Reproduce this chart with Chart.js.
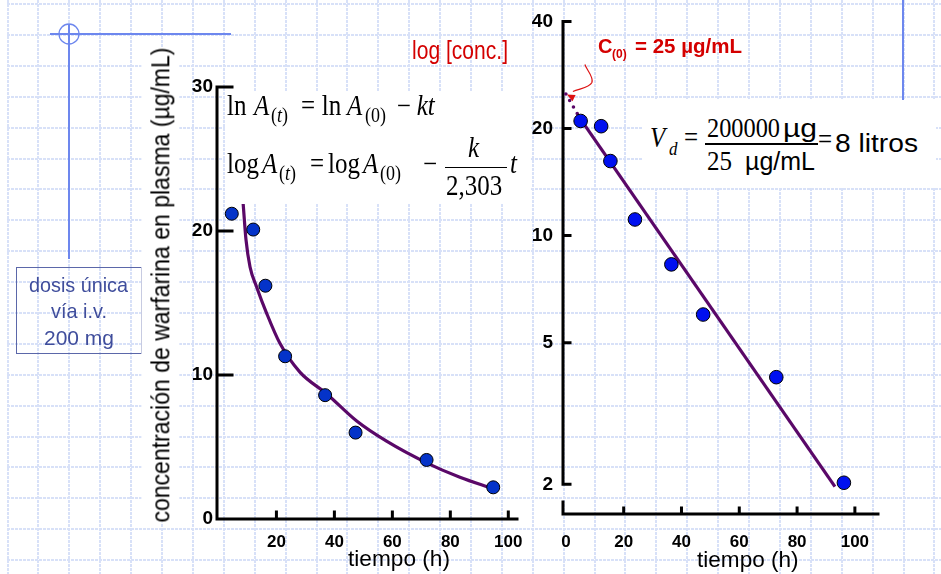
<!DOCTYPE html>
<html>
<head>
<meta charset="utf-8">
<title>warfarina</title>
<script src="https://cdn.jsdelivr.net/npm/chart.js@4.4.1/dist/chart.umd.min.js"></script>
<style>
  html, body { margin: 0; padding: 0; background: #fff; }
  #page { position: relative; width: 941px; height: 574px; overflow: hidden; }
  #paper, .plot { position: absolute; }
  .t { position: absolute; white-space: nowrap; line-height: 1; transform-origin: 0 0; }
  .box { position: absolute; background: #fff; }
</style>
</head>
<body>
<div id="page">
  <canvas id="paper" width="941" height="574"></canvas>
  <canvas id="linChart" class="plot" width="390" height="514" style="left:150px;top:60px"></canvas>
  <canvas id="logChart" class="plot" width="421" height="574" style="left:520px;top:0px"></canvas>
  <div id="layer"></div>
</div>
<script>
// --- data ---
// left plot, linear axis
const linTimes = [4.6, 12.0, 16.2, 23.0, 36.8, 47.3, 71.8, 94.8];
const linConc = [21.2, 20.1, 16.2, 11.3, 8.6, 6.0, 4.1, 2.2];
const linFitT = [7.6, 8.6, 9.5, 10.9, 13.2, 16.6, 21.2, 28.1, 37.3, 47.7, 58.0, 71.8, 83.3, 94.8];
const linFitC = [24.5, 21.7, 19.4, 17.5, 16.1, 14.3, 12.2, 10.2, 8.7, 6.8, 5.4, 3.9, 2.9, 2.1];
const linXTicks = [20, 40, 60, 80, 100];
const linYTicks = [0, 10, 20, 30];

// right plot, log axis
const logTimes = [5.1, 12.2, 15.4, 23.9, 36.5, 47.5, 72.8, 96.2];
const logConc = [21.0, 20.3, 16.2, 11.1, 8.3, 6.0, 4.0, 2.02];
const logFitT = [5.5, 93.1];
const logFitC = [21.0, 1.97];
const logExtT = [0, 5];
const logExtC = [25, 21.3];
const logXTicks = [0, 20, 40, 60, 80, 100];
const logYTicks = [2, 5, 10, 20, 40];

const SANS = "'Liberation Sans', Arial, sans-serif";
const SERIF = "'Liberation Serif', 'Times New Roman', serif";
const PURPLE = "#5a0868";

Chart.defaults.font.family = SANS;
Chart.defaults.color = "#000";

// background paper grid + slide ornaments
const paper = document.getElementById("paper").getContext("2d");
paper.strokeStyle = "#d8e1f8";
paper.lineWidth = 2;
paper.setLineDash([3, 1]);
for (let x = 7.5; x < 941; x += 30.9) {
    paper.beginPath();
    paper.moveTo(Math.round(x), 0);
    paper.lineTo(Math.round(x), 574);
    paper.stroke();
}
for (let y = 4; y < 574; y += 30.9) {
    paper.beginPath();
    paper.moveTo(7, Math.round(y));
    paper.lineTo(941, Math.round(y));
    paper.stroke();
}
paper.setLineDash([]);
paper.strokeStyle = "#6d87ee";
paper.lineWidth = 2;
paper.beginPath();
paper.moveTo(50, 34); paper.lineTo(231, 34);
paper.moveTo(69, 24); paper.lineTo(69, 259);
paper.moveTo(903, 0); paper.lineTo(903, 105);
paper.stroke();
paper.lineWidth = 1.3;
paper.beginPath();
paper.arc(69, 34, 10, 0, Math.PI * 2);
paper.stroke();

// axes drawn like the slide: ticks point inwards
const inkAxes = {
    id: "inkAxes",
    beforeDatasetsDraw(chart, args, o) {
        const ctx = chart.ctx, a = chart.chartArea;
        const xs = chart.scales.x, ys = chart.scales.y;
        const yEnd = o.yStop != null ? ys.getPixelForValue(o.yStop) : a.bottom;
        ctx.save();
        ctx.strokeStyle = "#000";
        ctx.lineWidth = 3;
        ctx.lineCap = "square";
        ctx.beginPath();
        ctx.moveTo(a.left, a.top);
        ctx.lineTo(a.left, yEnd);
        ctx.moveTo(a.left, a.bottom);
        ctx.lineTo(a.right, a.bottom);
        if (o.stub) {
            ctx.moveTo(a.left, a.bottom);
            ctx.lineTo(a.left, a.bottom - o.stub);
        }
        o.yMarks.forEach((v) => {
            const p = ys.getPixelForValue(v);
            ctx.moveTo(a.left, p);
            ctx.lineTo(a.left + o.yLen, p);
        });
        o.xMarks.forEach((v) => {
            const p = xs.getPixelForValue(v);
            ctx.moveTo(p, a.bottom);
            ctx.lineTo(p, a.bottom - o.xLen);
        });
        ctx.stroke();
        ctx.restore();
    },
};

// squiggly red arrow pointing at C(0)
const c0Arrow = {
    id: "c0Arrow",
    afterDatasetsDraw(chart, args, o) {
        const ctx = chart.ctx;
        const tx = chart.scales.x.getPixelForValue(o.t) + 1;
        const ty = chart.scales.y.getPixelForValue(o.c) + 0.5;
        ctx.save();
        ctx.strokeStyle = "#dd1111";
        ctx.fillStyle = "#dd1111";
        ctx.lineWidth = 1.2;
        ctx.beginPath();
        ctx.moveTo(tx + 18, ty - 30);
        ctx.bezierCurveTo(tx + 20, ty - 24, tx + 27, ty - 18, tx + 25, ty - 12);
        ctx.bezierCurveTo(tx + 23, ty - 7, tx + 13, ty - 6, tx + 6, ty - 3);
        ctx.stroke();
        const ang = Math.atan2(-3, 6);
        ctx.beginPath();
        ctx.moveTo(tx, ty);
        ctx.lineTo(tx + 8 * Math.cos(ang) - 3.5 * Math.sin(ang), ty - 8 * Math.sin(ang) - 3.5 * Math.cos(ang));
        ctx.lineTo(tx + 8 * Math.cos(ang) + 3.5 * Math.sin(ang), ty - 8 * Math.sin(ang) + 3.5 * Math.cos(ang));
        ctx.closePath();
        ctx.fill();
        ctx.restore();
    },
};

function fixTicks(list) {
    return (scale) => {
        scale.ticks = list.map((v) => ({ value: v }));
    };
}

function pts(xs, ys) {
    return xs.map((x, i) => ({ x: x, y: ys[i] }));
}

const xTickFont = { family: SANS, size: 17, weight: "bold" };
const yTickFont = { family: SANS, size: 19, weight: "bold" };
const noGrid = { display: false, drawTicks: false, tickLength: 0 };

new Chart(document.getElementById("linChart"), {
    type: "scatter",
    data: {
        datasets: [
            {
                label: "medido",
                data: pts(linTimes, linConc),
                pointRadius: 6.5,
                pointBackgroundColor: "#0433c9",
                pointBorderColor: "#000",
                pointBorderWidth: 1,
            },
            {
                label: "ajuste",
                data: pts(linFitT, linFitC),
                showLine: true,
                borderColor: PURPLE,
                borderWidth: 3.2,
                pointRadius: 0,
                tension: 0.4,
                cubicInterpolationMode: "monotone",
            },
        ],
    },
    options: {
        responsive: false,
        animation: false,
        layout: { padding: { left: 17, top: 27, right: 23, bottom: 15 } },
        plugins: {
            legend: { display: false },
            tooltip: { enabled: false },
            inkAxes: { yMarks: [10, 20, 30], xMarks: linXTicks, yLen: 15, xLen: 7 },
        },
        scales: {
            x: {
                type: "linear",
                min: -0.5,
                max: 103,
                afterBuildTicks: fixTicks(linXTicks),
                afterFit: (s) => { s.height = 40; },
                grid: noGrid,
                border: { display: false },
                ticks: { font: xTickFont, padding: 13, maxRotation: 0, autoSkip: false, callback: (v) => String(v) },
            },
            y: {
                type: "linear",
                min: 0,
                max: 30,
                afterBuildTicks: fixTicks(linYTicks),
                afterFit: (s) => { s.width = 50; },
                grid: noGrid,
                border: { display: false },
                ticks: { font: yTickFont, padding: 4, callback: (v) => String(v) },
            },
        },
    },
    plugins: [inkAxes],
});

new Chart(document.getElementById("logChart"), {
    type: "scatter",
    data: {
        datasets: [
            {
                label: "medido",
                data: pts(logTimes, logConc),
                pointRadius: 6.8,
                pointBackgroundColor: "#0010f0",
                pointBorderColor: "#000",
                pointBorderWidth: 1,
            },
            {
                label: "recta",
                data: pts(logFitT, logFitC),
                showLine: true,
                borderColor: PURPLE,
                borderWidth: 3.2,
                pointRadius: 0,
            },
            {
                label: "extrapolado",
                data: pts(logExtT, logExtC),
                showLine: true,
                borderColor: PURPLE,
                borderWidth: 3.6,
                borderDash: [0, 7.5],
                borderCapStyle: "round",
                pointRadius: 0,
            },
        ],
    },
    options: {
        responsive: false,
        animation: false,
        layout: { padding: { left: 7, top: 16, right: 63, bottom: 20 } },
        plugins: {
            legend: { display: false },
            tooltip: { enabled: false },
            inkAxes: { yMarks: logYTicks, xMarks: [20, 40, 60, 80, 100], yLen: 7, xLen: 6, yStop: 2, stub: 12 },
            c0Arrow: { t: 0, c: 25 },
        },
        scales: {
            x: {
                type: "linear",
                min: -1,
                max: 108,
                afterBuildTicks: fixTicks(logXTicks),
                afterFit: (s) => { s.height = 40; },
                grid: noGrid,
                border: { display: false },
                ticks: { font: xTickFont, padding: 18, maxRotation: 0, autoSkip: false, callback: (v) => String(v) },
            },
            y: {
                type: "logarithmic",
                min: 1.65,
                max: 40,
                afterBuildTicks: fixTicks(logYTicks),
                afterFit: (s) => { s.width = 36; },
                grid: noGrid,
                border: { display: false },
                ticks: { font: yTickFont, padding: 10, callback: (v) => String(v) },
            },
        },
    },
    plugins: [inkAxes, c0Arrow],
});

// --- text on top of the charts ---
const layer = document.getElementById("layer");

function box(x, y, w, h, css) {
    const el = document.createElement("div");
    el.className = "box";
    el.style.left = x + "px";
    el.style.top = y + "px";
    el.style.width = w + "px";
    el.style.height = h + "px";
    if (css) el.style.cssText += css;
    layer.appendChild(el);
    return el;
}

function put(html, x, base, font, opt) {
    opt = opt || {};
    const el = document.createElement("div");
    el.className = "t";
    el.style.font = font;
    el.style.lineHeight = "1";
    el.style.color = opt.color || "#000";
    el.innerHTML = html + "<span style='display:inline-block;width:0;height:0'></span>";
    layer.appendChild(el);
    const strut = el.lastChild;
    const w = el.getBoundingClientRect().width;
    const sx = opt.w ? opt.w / w : 1;
    const sy = opt.sy || 1;
    const left = opt.mid ? x - (w * sx) / 2 : x;
    const b = strut.offsetTop;
    el.style.left = left + "px";
    el.style.top = base - b + "px";
    el.style.transformOrigin = "0 " + b + "px";
    if (sx !== 1 || sy !== 1) el.style.transform = "scale(" + sx + "," + sy + ")";
    return el;
}

// white panels behind the formulas
box(225, 91, 305, 113);
box(642, 100, 294, 88);

// left formulas (slightly stretched upright like the slide)
const F = "25px " + SERIF;
const Fs = "18px " + SERIF;
const Fi = "italic 25px " + SERIF;
const tall = { sy: 1.15 };
put("ln", 227, 115, F, tall);
put("A", 254, 115, Fi, tall);
put("(<i>t</i>)", 271, 121.5, Fs, tall);
put("=", 301, 115, F, tall);
put("ln", 321.7, 115, F, tall);
put("A", 347, 115, Fi, tall);
put("(0)", 365, 121.5, Fs, tall);
put("\u2212", 396.7, 115, F, tall);
put("kt", 416.7, 115, Fi, tall);

put("log", 227, 173.3, F, tall);
put("A", 262, 173.3, Fi, tall);
put("(<i>t</i>)", 279, 180, Fs, tall);
put("=", 310, 173.3, F, tall);
put("log", 328, 173.3, F, tall);
put("A", 363, 173.3, Fi, tall);
put("(0)", 380, 180, Fs, tall);
put("\u2212", 423, 173.3, F, tall);
put("k", 468, 156.7, Fi, tall);
box(445, 166.5, 62, 1.5, "background:#000");
put("2,303", 446, 195, F, tall);
put("t", 510, 173.3, Fi, tall);

// Vd formula
const G = "25px " + SERIF;
const Gs = "25px " + SANS;
put("V", 650, 147, "italic 25px " + SERIF, tall);
put("d", 669, 155, "italic 17px " + SERIF, tall);
put("=", 684, 147, G, tall);
put("200000", 707, 137, G, { w: 73, sy: 1.12 });
put("\u00b5g", 783, 137, Gs, { w: 34, sy: 1.05 });
box(705, 143, 113, 1.5, "background:#000");
put("25", 707, 170, G, { w: 25, sy: 1.12 });
put("\u00b5g/mL", 745, 170, Gs, { w: 70, sy: 1.05 });
put("=", 818, 149, G, tall);
put("8 litros", 835, 152, "26px " + SANS, { w: 83, sy: 1.02 });

// red notes
put("log [conc.]", 412, 59, "26px " + SANS, { color: "#d40000", w: 96 });
put("C", 598, 53, "bold 20px " + SANS, { color: "#d40000" });
put("(0)", 612, 58, "bold 12px " + SANS, { color: "#d40000" });
put("= 25 \u00b5g/mL", 635, 53, "bold 20px " + SANS, { color: "#d40000", w: 107 });

// dose box
box(16, 267, 124, 85, "background:transparent;border:1.5px solid #5b67a9");
const D = "21px " + SANS;
put("dosis única", 78.5, 291.7, D, { color: "#3f4d9c", w: 99, mid: true });
put("vía i.v.", 78.5, 318.3, D, { color: "#3f4d9c", w: 56, mid: true });
put("200 mg", 78.5, 345, D, { color: "#3f4d9c", w: 70, mid: true });

// axis titles
put("tiempo (h)", 399, 566, "22px " + SANS, { w: 102, mid: true });
put("tiempo (h)", 747.5, 566.5, "22px " + SANS, { w: 101.6, mid: true });

const yt = document.createElement("div");
yt.className = "t";
yt.style.font = "26px " + SANS;
yt.style.lineHeight = "1";
yt.style.padding = "6px 0";
yt.style.background = "#fff";
yt.textContent = "concentración de warfarina en plasma (µg/mL)";
layer.appendChild(yt);
const r = yt.getBoundingClientRect();
yt.style.left = 160 - r.width / 2 + "px";
yt.style.top = 284.5 - r.height / 2 + "px";
yt.style.transformOrigin = "50% 50%";
yt.style.transform = "rotate(-90deg) scaleX(" + 475 / r.width + ")";
</script>
</body>
</html>
